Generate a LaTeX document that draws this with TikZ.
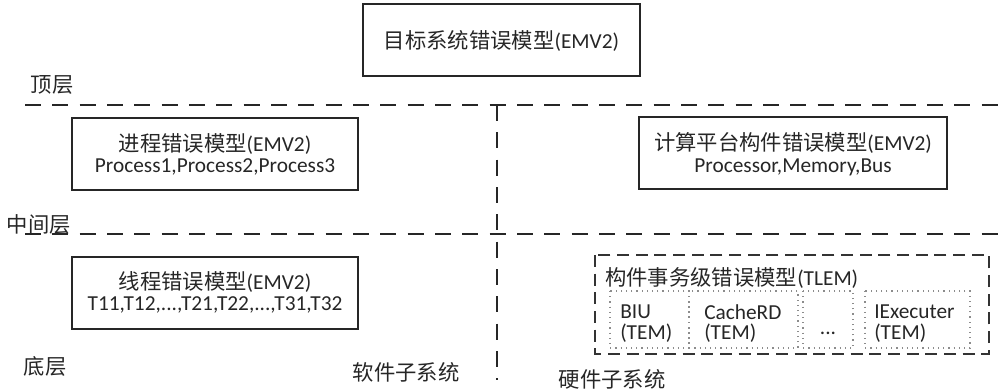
\documentclass[tikz,border=0pt]{standalone}
\usepackage{fontspec}
\setmainfont{Carlito}
\newfontfamily\cjk{Noto Sans CJK SC}
\begin{document}
\begin{tikzpicture}[x=0.75pt,y=-0.75pt,
  txt/.style={font=\fontsize{16}{18}\selectfont, text=black!85, inner sep=0pt},
  mbox/.style={draw=black!85, line width=1.1pt},
  layerline/.style={draw=black!85, line width=1.4pt, dash pattern=on 12pt off 8.5pt},
  tbox/.style={draw=black!80, line width=1.1pt, dash pattern=on 9pt off 5pt},
  dbox/.style={draw=black!45, line width=0.9pt, dash pattern=on 0.9pt off 3pt}]
\useasboundingbox (0,0) rectangle (998,390);
% boxes
\draw[mbox] (363,4) rectangle (640,76);
\node[txt] (top) at (501.5,41) {\cjk 目标系统错误模型\normalfont(EMV2)};
\draw[mbox] (72,118) rectangle (358,190);
\node[txt] (proc) at (215,144) {\cjk 进程错误模型\normalfont(EMV2)};
\node[txt] (procl) at (215,167) {Process1,Process2,Process3};
\draw[mbox] (639,117) rectangle (947,189);
\node[txt] (plat) at (793,143) {\cjk 计算平台构件错误模型\normalfont(EMV2)};
\node[txt] (platl) at (793,167) {Processor,Memory,Bus};
\draw[mbox] (72,257) rectangle (358,329);
\node[txt] (thr) at (215,282) {\cjk 线程错误模型\normalfont(EMV2)};
\node[txt] (thrl) at (215,305) {T11,T12,...,T21,T22,...,T31,T32};
% layer lines
\draw[layerline] (25,105) -- (998,105);
\draw[layerline] (25,234) -- (998,234);
\draw[layerline] (497,105) -- (497,380);
% layer labels
\node[txt] (l1) at (52,85) {\cjk 顶层};
\node[txt] (l2) at (39,224) {\cjk 中间层};
\node[txt] (l3) at (45,366) {\cjk 底层};
\node[txt] (sw) at (406,372) {\cjk 软件子系统};
\node[txt] (hw) at (612,379) {\cjk 硬件子系统};
% TLEM
\draw[tbox] (595,255) rectangle (989,354);
\node[txt,anchor=west] (tlem) at (605,278) {\cjk 构件事务级错误模型\normalfont(TLEM)};
\draw[dbox] (610,291) rectangle (689,348);
\draw[dbox] (689,291) rectangle (798,348);
\draw[dbox] (803,291) rectangle (853,348);
\draw[dbox] (865,291) rectangle (970,348);
\node[txt,anchor=west] (b1) at (620,312) {BIU};
\node[txt,anchor=west] (b2) at (620,333) {(TEM)};
\node[txt,anchor=west] (c1) at (704,312) {CacheRD};
\node[txt,anchor=west] (c2) at (704,333) {(TEM)};
\node[txt] (dd) at (828,333) {...};
\node[txt,anchor=west] (e1) at (874,312) {IExecuter};
\node[txt,anchor=west] (e2) at (874,333) {(TEM)};
\end{tikzpicture}
\end{document}
